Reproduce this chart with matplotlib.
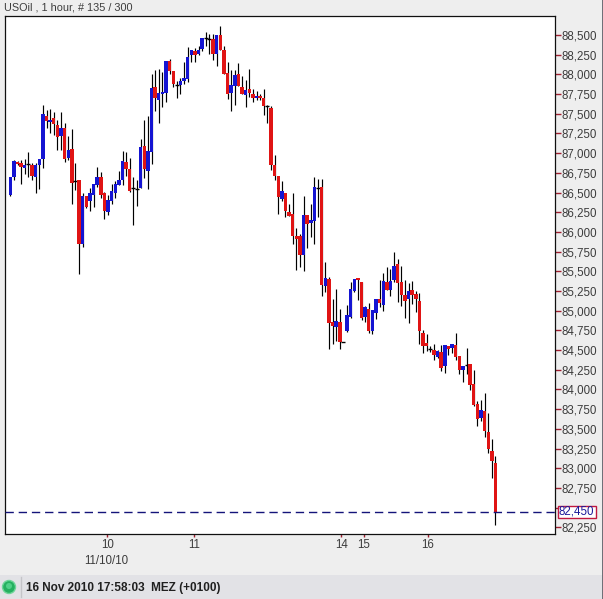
import matplotlib
matplotlib.use("Agg")
import matplotlib.pyplot as plt
from matplotlib.patches import Circle, Rectangle

# Candle data (1 hour USOil)
opens = [86470, 86695, 86885, 86875, 86810, 86860, 86850, 86695, 86850, 86925,
         87470, 87395, 87445, 87355, 87215, 87320, 86940, 87050, 86645, 86660,
         85845, 86455, 86390, 86470, 86595, 86695, 86495, 86250, 86390, 86495,
         86595, 86660, 86885, 86800, 86555, 86545, 86555, 87090, 86775, 87015,
         87840, 87675, 87750, 87765, 88170, 88045, 87865, 87865, 87915, 87940,
         88245, 88295, 88260, 88320, 88460, 88450, 88450, 88260, 88500, 88310,
         88020, 87765, 87850, 88005, 87840, 87740, 87815, 87750, 87700, 87725,
         87700, 87600, 87575, 86850, 86710, 86415, 86495, 86250, 86225, 85945,
         85945, 85705, 86215, 86110, 86140, 86555, 86570, 85310, 85400, 84855,
         84790, 84855, 84600, 84740, 84920, 85250, 85415, 85365, 84920, 85020,
         84740, 84970, 85145, 85070, 85365, 85260, 85390, 85590, 85365, 85200,
         85145, 85260, 85210, 85120, 84715, 84590, 84510, 84500, 84410, 84475,
         84295, 84550, 84525, 84565, 84425, 84245, 84310, 84320, 84065, 83815,
         83635, 83725, 83460, 83215, 83065]
highs = [86695, 86910, 86900, 86910, 86925, 87015, 86875, 86875, 86925, 87610,
         87545, 87560, 87520, 87420, 87520, 87380, 87215, 87305, 86875, 86660,
         86495, 86455, 86555, 86610, 86825, 86760, 86505, 86470, 86610, 86645,
         86775, 87025, 87015, 86940, 86695, 86660, 87180, 87420, 87470, 88005,
         88055, 88070, 88030, 88170, 88195, 88045, 87915, 87955, 88155, 88350,
         88310, 88335, 88360, 88460, 88540, 88515, 88515, 88500, 88615, 88360,
         88155, 88055, 88055, 88145, 87980, 87930, 88070, 87815, 87790, 87750,
         87815, 87610, 87600, 86975, 86710, 86645, 86495, 86355, 86495, 86050,
         85970, 86455, 86215, 86355, 86695, 86670, 86670, 85615, 85425, 85145,
         85275, 85020, 84600, 85070, 85365, 85400, 85415, 85365, 85060, 85095,
         85005, 85145, 85390, 85475, 85555, 85530, 85745, 85655, 85565, 85390,
         85350, 85375, 85250, 85225, 84755, 84705, 84550, 84575, 84500, 84565,
         84565, 84550, 84575, 84715, 84425, 84295, 84525, 84320, 84245, 83850,
         83865, 83955, 83700, 83370, 83155]
lows = [86455, 86660, 86850, 86610, 86735, 86695, 86660, 86495, 86545, 86810,
        87320, 87255, 87230, 87040, 87040, 86885, 86910, 86355, 86530, 85465,
        85810, 86305, 86265, 86315, 86570, 86430, 86165, 86215, 86355, 86430,
        86595, 86595, 86710, 86505, 86085, 86330, 86555, 86685, 86545, 86860,
        87535, 87380, 87585, 87650, 88005, 87840, 87700, 87750, 87880, 87905,
        88155, 88155, 88245, 88295, 88360, 88260, 88185, 88105, 88310, 88005,
        87685, 87535, 87610, 87850, 87750, 87585, 87715, 87650, 87675, 87675,
        87485, 87380, 86785, 86660, 86225, 86390, 86190, 86200, 85845, 85515,
        85555, 85505, 85795, 85935, 85845, 86190, 85185, 85235, 84510, 84575,
        84615, 84510, 84600, 84730, 84905, 85235, 85135, 84880, 84855, 84715,
        84705, 84895, 85045, 84995, 85260, 85185, 85365, 85110, 85060, 84905,
        84840, 85085, 84985, 84575, 84460, 84485, 84475, 84370, 84400, 84235,
        84205, 84435, 84460, 84370, 84195, 84095, 84195, 83990, 83790, 83535,
        83595, 83395, 83190, 82875, 82275]
closes = [86695, 86900, 86860, 86825, 86850, 86860, 86710, 86850, 86925, 87495,
          87410, 87420, 87370, 87205, 87320, 86925, 87040, 86620, 86645, 85845,
          86455, 86315, 86495, 86610, 86695, 86470, 86265, 86405, 86520, 86610,
          86660, 86900, 86800, 86520, 86555, 86545, 87080, 86800, 87025, 87825,
          87700, 87765, 87775, 88170, 88045, 87880, 87865, 87915, 87955, 88220,
          88310, 88245, 88310, 88460, 88460, 88450, 88260, 88500, 88310, 88005,
          87750, 87865, 87990, 87850, 87750, 87800, 87765, 87700, 87725, 87700,
          87600, 87600, 86850, 86710, 86445, 86520, 86265, 86200, 85945, 85910,
          85705, 86215, 86100, 86150, 86570, 86555, 85325, 85415, 84840, 84805,
          84870, 84600, 84600, 84945, 85275, 85400, 85390, 84905, 85045, 84740,
          85005, 85145, 85095, 85375, 85260, 85375, 85565, 85350, 85200, 85120,
          85250, 85200, 85145, 84740, 84550, 84550, 84510, 84435, 84485, 84270,
          84565, 84510, 84575, 84410, 84245, 84295, 84310, 84055, 83800, 83625,
          83735, 83470, 83240, 83090, 82450]

y_ticks = list(range(82250, 88750, 250))
x_tick_pos = [26.8, 50.8, 91.4, 97.7, 115.3]
x_tick_labels = ['10', '11', '14', '15', '16']
last_price = 82450

W, H = 603, 599
FONT = 'Liberation Sans'
TEXT = '#3c3c3c'
UP = '#1414d2'
DOWN = '#e01414'
TICK = '#a02030'

fig = plt.figure(figsize=(W / 100, H / 100), dpi=100, facecolor='#eeeeee')

# Background layer in pixel coordinates: status bar and right edge
bg = fig.add_axes([0, 0, 1, 1], zorder=0)
bg.set_xlim(0, W)
bg.set_ylim(H, 0)
bg.axis('off')
bg.add_patch(Rectangle((0, 575), W, 24, fc='#e2e2e6', ec='none'))
bg.add_patch(Rectangle((601.5, 0), 2, H, fc='#707078', ec='none'))
bg.plot([21, 21], [577, 597], color='#c4c4c8', lw=1)
bg.add_patch(Circle((9, 587), 6.5, fc='#25b060', ec='#6fd59a', lw=1))
bg.add_patch(Circle((9, 586), 3, fc='#50d088', ec='none'))
bg.text(4, 8, 'USOil , 1 hour, # 135 / 300', fontsize=7.8, family=FONT, color=TEXT, va='center')
bg.text(25.5, 587.5, '16 Nov 2010 17:58:03  MEZ (+0100)', fontsize=8.5, family=FONT,
        fontweight='bold', color='#202020', va='center')
bg.text(106.5, 560.5, '11/10/10', fontsize=8.3, family=FONT, color=TEXT, ha='center', va='center')

# Chart panel
left, right, top, bottom = 4.5, 554.5, 15.5, 534
ax = fig.add_axes([left / W, 1 - bottom / H, (right - left) / W, (bottom - top) / H], zorder=1)
ax.set_xlim(-1.6, 150.3)
ax.set_ylim(82165, 88748)
for s in ax.spines.values():
    s.set_linewidth(0.9)
    s.set_color('#101010')

idx = list(range(len(opens)))
ax.vlines(idx, lows, highs, color='black', lw=0.85, zorder=2)

for i in idx:
    o, c = opens[i], closes[i]
    if o == c:
        ax.plot([i - 0.55, i + 0.55], [o, c], color='black', lw=1, solid_capstyle='butt', zorder=3)
    else:
        ax.bar(i, abs(c - o), bottom=min(o, c), width=0.95, color=UP if c > o else DOWN,
               linewidth=0, zorder=3)

# Last price line and box
ax.axhline(last_price, color='#14147a', lw=1, dashes=(6, 3.5), zorder=4)

ax.yaxis.tick_right()
ax.set_yticks(y_ticks)
# 82,500 sits behind the last price box
ax.set_yticklabels(['' if v == 82500 else f'{v:,}' for v in y_ticks], fontsize=8.3, family=FONT, color=TEXT)
ax.tick_params(axis='y', length=4, width=1, color=TICK, pad=1)
ax.set_xticks(x_tick_pos)
ax.set_xticklabels(x_tick_labels, fontsize=8.3, family=FONT, color=TEXT)
ax.tick_params(axis='x', length=2, width=1, color=TICK, pad=1.5)

top_ax = fig.add_axes([0, 0, 1, 1], zorder=2)
top_ax.set_xlim(0, W)
top_ax.set_ylim(H, 0)
top_ax.axis('off')
top_ax.add_patch(Rectangle((557.5, 505.5), 38, 12, fc='white', ec='#c01840', lw=1))
top_ax.text(576.5, 511.5, f'{last_price:,}', fontsize=8.3, family=FONT, color='#1a1a9a',
            ha='center', va='center')

fig.savefig('out.png', dpi=100, facecolor=fig.get_facecolor())
